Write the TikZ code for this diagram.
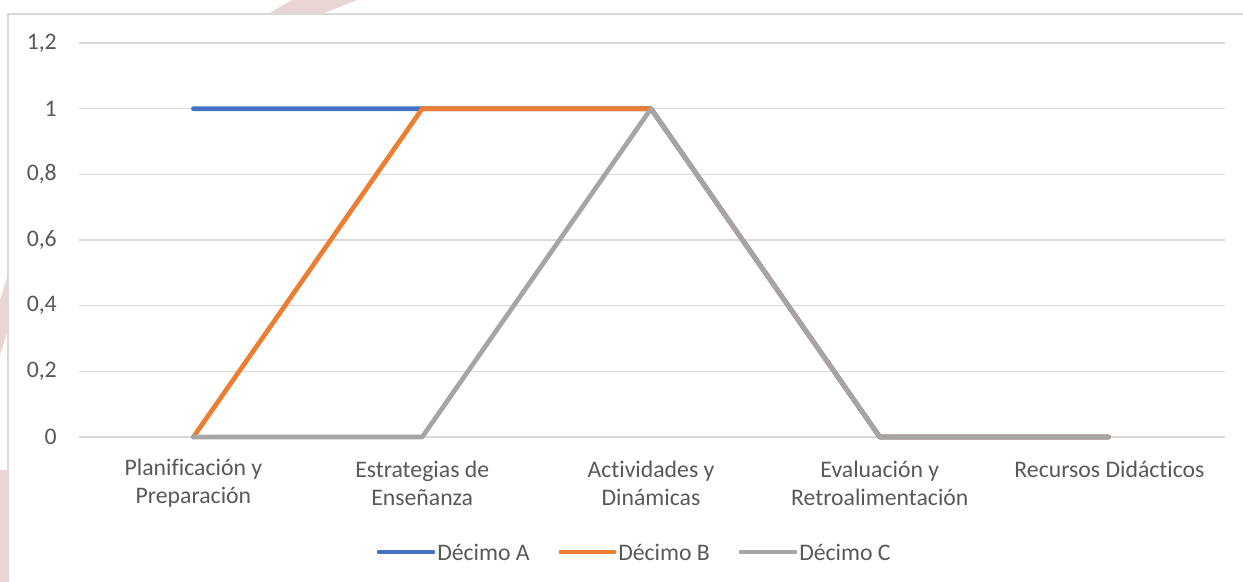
\documentclass[tikz,border=0pt]{standalone}
\usepackage{fontspec}
\setmainfont[Ligatures=NoCommon]{Carlito}
\definecolor{cA}{HTML}{4472C4}
\definecolor{cB}{HTML}{ED7D31}
\definecolor{cC}{HTML}{A5A5A5}
\definecolor{grid}{HTML}{D9D9D9}
\definecolor{txt}{HTML}{595959}
\definecolor{wm}{HTML}{EAD5D5}
\tikzset{
  ticklabel/.style={anchor=east, text=txt, inner sep=0pt, font=\fontsize{17.8}{21}\selectfont},
  catlabel/.style={align=center, text=txt, inner sep=0pt, font=\fontsize{17.8}{21}\selectfont},
  leglabel/.style={anchor=west, text=txt, inner sep=0pt, font=\fontsize{17.8}{21}\selectfont},
  gridline/.style={draw=grid, line width=1pt},
  series/.style={line width=3.5pt, line cap=round, line join=round},
}
\begin{document}
\begin{tikzpicture}[x=0.75pt, y=-0.75pt]
\useasboundingbox (0,0) rectangle (1243,582);
\fill[white] (0,0) rectangle (1243,582);
% faint watermark
\fill[wm] (268,14) -- (292,0) -- (357,0) -- (322,14) -- cycle;
\fill[wm] (0,300) -- (8,275) -- (8,330) -- (0,355) -- cycle;
\fill[wm] (0,470) rectangle (8,582);
% chart border
\draw[draw=grid, line width=1pt] (8,600) -- (8,14) -- (1260,14);
% gridlines and tick labels
\foreach \v/\lab [count=\i] in {0/0, 0.2/{0,2}, 0.4/{0,4}, 0.6/{0,6}, 0.8/{0,8}, 1/1, 1.2/{1,2}} {
  \pgfmathsetmacro{\yy}{437-\v*328.3333}
  \draw[gridline] (79,\yy) -- (1225,\yy);
  \node[ticklabel] (t\i) at (57,\yy) {\lab};
}
% category positions
\foreach \k/\xx in {1/193.4, 2/422.2, 3/651, 4/879.8, 5/1108.6} {
  \coordinate (p\k-0) at (\xx,437);
  \coordinate (p\k-1) at (\xx,108.7);
}
\node[catlabel] (c1) at (193.4,483) {Planificación y\\Preparación};
\node[catlabel] (c2) at (422.2,483) {Estrategias de\\Enseñanza};
\node[catlabel] (c3) at (651,483) {Actividades y\\Dinámicas};
\node[catlabel] (c4) at (879.8,483) {Evaluación y\\Retroalimentación};
\node[catlabel] (c5) at (1109.5,469) {Recursos Didácticos};
% series
\draw[series, cA] (p1-1) -- (p2-1) -- (p3-1) -- (p4-0) -- (p5-0);
\draw[series, cB] (p1-0) -- (p2-1) -- (p3-1) -- (p4-0) -- (p5-0);
\draw[series, cC] (p1-0) -- (p2-0) -- (p3-1) -- (p4-0) -- (p5-0);
% legend
\coordinate (la0) at (379,552); \coordinate (la1) at (433,552);
\coordinate (lb0) at (561,552); \coordinate (lb1) at (614,552);
\coordinate (lc0) at (741,552); \coordinate (lc1) at (795,552);
\draw[series, cA] (la0) -- (la1);
\draw[series, cB] (lb0) -- (lb1);
\draw[series, cC] (lc0) -- (lc1);
\node[leglabel] (LA) at (437,552) {Décimo A};
\node[leglabel] (LB) at (618,552) {Décimo B};
\node[leglabel] (LC) at (799,552) {Décimo C};
\end{tikzpicture}
\end{document}
